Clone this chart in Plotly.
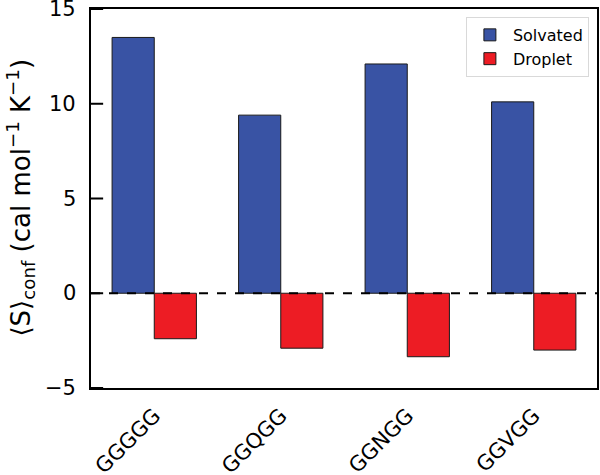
import plotly.graph_objects as go

categories = ["GGGGG", "GGQGG", "GGNGG", "GGVGG"]
solvated = [13.5, 9.4, 12.1, 10.1]
droplet = [-2.4, -2.9, -3.35, -3.0]
y_ticks = [-5, 0, 5, 10, 15]
y_tick_labels = ["\u22125", "0", "5", "10", "15"]
y_title = "⟨S⟩<sub>conf</sub> (cal mol<sup>−1</sup> K<sup>−1</sup>)"

fig = go.Figure()
fig.add_trace(go.Bar(x=categories, y=solvated, name="Solvated",
                     marker=dict(color="#3953a4", line=dict(color="#1a1a1a", width=1))))
fig.add_trace(go.Bar(x=categories, y=droplet, name="Droplet",
                     marker=dict(color="#ed1c24", line=dict(color="#1a1a1a", width=1))))

fig.add_shape(type="line", xref="paper", yref="y", x0=0, x1=1, y0=0, y1=0,
              line=dict(color="black", width=2, dash="dash"))
# inward tick marks and labels on the left axis
for t, lab in zip(y_ticks, y_tick_labels):
    fig.add_shape(type="line", xref="paper", yref="y", x0=0, x1=0.024, y0=t, y1=t,
                  line=dict(color="black", width=2), layer="above")
    fig.add_annotation(x=-0.026, xref="paper", y=t, yref="y", text=lab,
                       showarrow=False, xanchor="right", yanchor="middle",
                       font=dict(size=21, color="black"))

fig.add_annotation(x=-0.140, xref="paper", y=0.503, yref="paper", text=y_title,
                   textangle=-90, showarrow=False, xanchor="center", yanchor="middle",
                   font=dict(size=26, color="black"))

fig.update_layout(
    width=600, height=475,
    margin=dict(l=91, r=3, t=9, b=87),
    plot_bgcolor="white", paper_bgcolor="white",
    barmode="group", bargap=1/3, bargroupgap=0,
    font=dict(family="DejaVu Sans", color="black", size=20),
    showlegend=True,
    legend=dict(x=0.984, y=0.979, xanchor="right", yanchor="top",
                bgcolor="white", bordercolor="#d9d9d9", borderwidth=1,
                font=dict(size=16), tracegroupgap=0, itemwidth=36),
    xaxis=dict(range=[-0.5, 3.5], showline=True, linecolor="black", linewidth=2,
               mirror=True, ticks="outside", ticklen=5, tickcolor="rgba(0,0,0,0)",
               tickangle=-45, tickfont=dict(size=21),
               automargin=False, ticklabeloverflow="allow"),
    yaxis=dict(range=[-5.001, 15.001], showline=True, linecolor="black",
               linewidth=2, mirror=True, ticks="", showgrid=False, zeroline=False,
               showticklabels=False, automargin=False),
)

fig.write_html("out.html", config={"displayModeBar": False},
               post_script="document.body.style.margin='0';document.body.style.overflow='hidden';")
